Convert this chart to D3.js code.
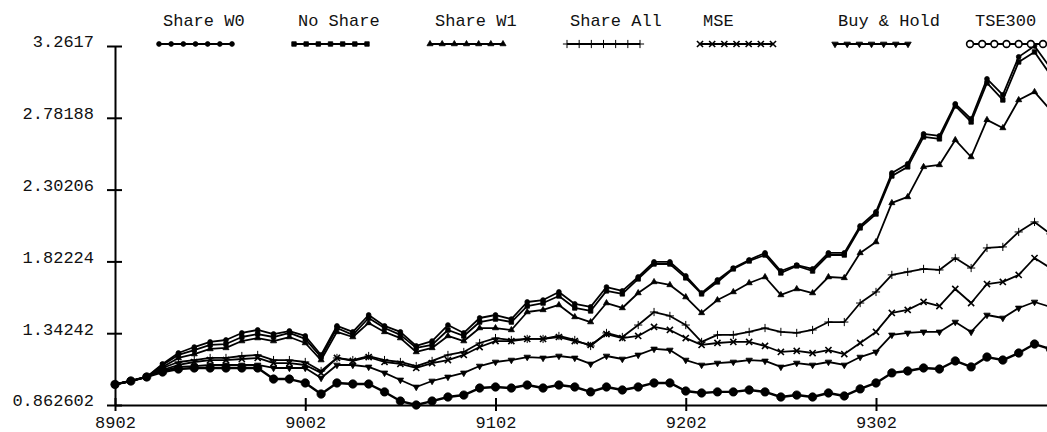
<!DOCTYPE html>
<html>
<head>
<meta charset="utf-8">
<script src="https://cdn.jsdelivr.net/npm/d3@7"></script>
<style>
  html, body { margin: 0; padding: 0; background: #fff; }
  svg { display: block; }
</style>
</head>
<body>
<svg id="chart"></svg>
<script>
// month labels (YYMM), one point per month
const months = [
    '8902','8903','8904','8905','8906','8907','8908','8909','8910','8911','8912',
    '9001','9002','9003','9004','9005','9006','9007','9008','9009','9010','9011','9012',
    '9101','9102','9103','9104','9105','9106','9107','9108','9109','9110','9111','9112',
    '9201','9202','9203','9204','9205','9206','9207','9208','9209','9210','9211','9212',
    '9301','9302','9303','9304','9305','9306','9307','9308','9309','9310','9311','9312',
    '9401'
];
const xTickLabels = ['8902', '9002', '9102', '9202', '9302'];
const yTicks = [0.862602, 1.34242, 1.82224, 2.30206, 2.78188, 3.2617];
const yTickLabels = ['0.862602', '1.34242', '1.82224', '2.30206', '2.78188', '3.2617'];

const seriesNames = ['Share W0', 'No Share', 'Share W1', 'Share All', 'MSE', 'Buy & Hold', 'TSE300'];

const shareW0 = [1.000,1.023,1.050,1.137,1.210,1.250,1.284,1.297,1.344,1.364,1.337,1.357,1.324,1.197,1.391,1.351,1.464,1.391,1.351,1.257,
    1.290,1.397,1.344,1.444,1.464,1.437,1.551,1.564,1.618,1.538,1.518,1.651,1.625,1.718,1.819,1.819,1.725,1.611,1.698,1.778,
    1.832,1.879,1.758,1.798,1.772,1.879,1.879,2.059,2.153,2.413,2.474,2.674,2.661,2.875,2.774,3.042,2.935,3.189,3.2617,3.115];
const noShare = [1.000,1.023,1.050,1.130,1.197,1.230,1.264,1.270,1.317,1.337,1.317,1.344,1.304,1.183,1.377,1.331,1.444,1.377,1.331,1.244,
    1.264,1.364,1.324,1.417,1.437,1.417,1.524,1.544,1.591,1.511,1.491,1.625,1.605,1.705,1.805,1.805,1.712,1.605,1.685,1.772,
    1.825,1.865,1.745,1.792,1.758,1.865,1.865,2.046,2.139,2.393,2.454,2.654,2.641,2.861,2.754,3.015,2.901,3.155,3.222,3.069];
const shareW1 = [1.000,1.023,1.050,1.117,1.177,1.203,1.237,1.244,1.290,1.310,1.290,1.317,1.277,1.163,1.351,1.317,1.411,1.351,1.310,1.217,
    1.244,1.324,1.290,1.377,1.377,1.364,1.484,1.498,1.531,1.451,1.417,1.544,1.511,1.611,1.685,1.665,1.584,1.478,1.564,1.618,
    1.678,1.718,1.598,1.638,1.611,1.718,1.712,1.879,1.952,2.213,2.253,2.454,2.467,2.634,2.520,2.768,2.714,2.901,2.955,2.834];
const shareAll = [1.000,1.023,1.050,1.110,1.150,1.163,1.177,1.177,1.190,1.197,1.163,1.163,1.150,1.090,1.177,1.163,1.190,1.163,1.150,1.123,
    1.157,1.197,1.217,1.277,1.310,1.297,1.304,1.304,1.324,1.297,1.257,1.344,1.317,1.397,1.484,1.458,1.397,1.284,1.331,1.331,
    1.351,1.377,1.351,1.344,1.364,1.417,1.417,1.544,1.618,1.732,1.752,1.772,1.765,1.845,1.778,1.912,1.919,2.019,2.086,2.006];
const mse = [1.000,1.023,1.050,1.097,1.130,1.150,1.163,1.163,1.170,1.177,1.143,1.143,1.130,1.077,1.177,1.157,1.183,1.150,1.137,1.110,
    1.143,1.163,1.197,1.250,1.290,1.290,1.304,1.304,1.317,1.290,1.264,1.337,1.310,1.324,1.384,1.364,1.310,1.264,1.277,1.284,
    1.284,1.257,1.217,1.224,1.210,1.230,1.203,1.277,1.351,1.478,1.498,1.551,1.524,1.638,1.544,1.671,1.685,1.732,1.845,1.778];
const buyHold = [1.000,1.023,1.050,1.090,1.117,1.123,1.130,1.130,1.130,1.130,1.110,1.110,1.110,1.043,1.130,1.130,1.117,1.077,1.030,0.983,
    1.023,1.050,1.077,1.123,1.150,1.163,1.183,1.177,1.190,1.177,1.137,1.190,1.170,1.197,1.237,1.230,1.163,1.130,1.143,1.150,
    1.163,1.157,1.117,1.143,1.130,1.150,1.130,1.183,1.217,1.331,1.344,1.351,1.351,1.417,1.351,1.464,1.444,1.511,1.551,1.518];
const tse300 = [1.000,1.023,1.050,1.083,1.103,1.110,1.110,1.110,1.110,1.110,1.036,1.036,1.010,0.936,1.010,1.003,1.003,0.950,0.889,0.862602,
    0.889,0.916,0.929,0.976,0.983,0.976,0.996,0.976,0.996,0.983,0.950,0.983,0.963,0.983,1.010,1.010,0.956,0.943,0.950,0.950,
    0.963,0.950,0.916,0.929,0.916,0.943,0.923,0.970,1.010,1.077,1.090,1.110,1.103,1.157,1.117,1.183,1.163,1.210,1.270,1.237];

function drawChart() {
    const W = 1047, H = 432;
    const svg = d3.select('#chart').attr('width', W).attr('height', H);
    svg.selectAll('*').remove();

    const font = '"Liberation Mono", "Courier New", monospace';
    const left = 115, top = 46, bottom = 405;
    const step = (876 - 115) / 48; // px per month

    const x = d3.scalePoint()
        .domain(months)
        .range([left, left + step * (months.length - 1)]);

    const y = d3.scaleLinear()
        .domain([yTicks[0], yTicks[yTicks.length - 1]])
        .range([bottom, top]);

    const allSeries = [shareW0, noShare, shareW1, shareAll, mse, buyHold, tse300];

    // marker shapes per series
    const markers = [
        { type: d3.symbolCircle, size: 18, fill: '#000', rot: 0, sw: 0.8 },
        { type: d3.symbolSquare, size: 20, fill: '#000', rot: 0, sw: 0.8 },
        { type: d3.symbolTriangle, size: 16, fill: '#000', rot: 0, sw: 0.8 },
        { type: d3.symbolPlus, size: 24, fill: '#000', rot: 0, sw: 1 },
        { type: d3.symbolTimes, size: 26, fill: 'none', rot: 0, sw: 1.6 },
        { type: d3.symbolTriangle, size: 18, fill: '#000', rot: 180, sw: 0.8 },
        { type: d3.symbolCircle, size: 55, fill: '#000', rot: 0, sw: 0.8 }
    ];

    // Axes
    const yAxis = svg.append('g')
        .attr('transform', `translate(${left},0)`)
        .call(d3.axisLeft(y).tickValues(yTicks).tickFormat((d, i) => yTickLabels[i]).tickSizeOuter(0));
    yAxis.select('.domain').attr('stroke', '#000').attr('stroke-width', 2);
    yAxis.selectAll('.tick line').attr('x1', -8).attr('x2', 7).attr('stroke-width', 2);
    yAxis.selectAll('.tick text')
        .attr('x', -21)
        .attr('dy', '0.05em')
        .style('font-family', font)
        .style('font-size', '17px')
        .style('fill', '#111');

    const xAxis = svg.append('g')
        .attr('transform', `translate(0,${bottom})`)
        .call(d3.axisBottom(x).tickValues(xTickLabels).tickSizeOuter(0));
    xAxis.select('.domain').attr('stroke', '#000').attr('stroke-width', 2);
    xAxis.selectAll('.tick line').attr('y1', -7).attr('y2', 6).attr('stroke-width', 2);
    xAxis.selectAll('.tick text')
        .attr('y', 23)
        .attr('dy', 0)
        .style('font-family', font)
        .style('font-size', '17px')
        .style('fill', '#111');

    // Lines + markers
    const line = d3.line()
        .x((d, i) => x(months[i]))
        .y(d => y(d));

    const plot = svg.append('g');
    allSeries.forEach((vals, k) => {
        plot.append('path')
            .datum(vals)
            .attr('d', line)
            .attr('fill', 'none')
            .attr('stroke', '#000')
            .attr('stroke-width', k === 6 ? 2.4 : 1.8)
            .attr('stroke-linejoin', 'round');

        const m = markers[k];
        const sym = d3.symbol().type(m.type).size(m.size);
        plot.selectAll(null)
            .data(vals)
            .enter()
            .append('path')
            .attr('d', sym)
            .attr('transform', (d, i) => `translate(${x(months[i])},${y(d)}) rotate(${m.rot})`)
            .attr('fill', m.fill)
            .attr('stroke', '#000')
            .attr('stroke-width', m.sw);
    });

    // Legend
    const legendX = [159, 294, 430, 567, 700, 835, 970];
    const legendTextX = [163, 298, 435, 570, 703, 838, 975];
    const legend = svg.append('g');
    seriesNames.forEach((name, k) => {
        legend.append('text')
            .attr('x', legendTextX[k])
            .attr('y', 26)
            .style('font-family', font)
            .style('font-size', '17px')
            .style('fill', '#111')
            .text(name);

        const x0 = legendX[k], x1 = x0 + 73, ly = 44;
        legend.append('line')
            .attr('x1', x0).attr('x2', x1)
            .attr('y1', ly).attr('y2', ly)
            .attr('stroke', '#000')
            .attr('stroke-width', 1.8);
        const m = markers[k];
        const size = k === 6 ? 36 : m.size;
        const sym = d3.symbol().type(m.type).size(size);
        d3.range(7).forEach(j => {
            legend.append('path')
                .attr('d', sym)
                .attr('transform', `translate(${x0 + j * (x1 - x0) / 6},${ly}) rotate(${m.rot})`)
                .attr('fill', k === 6 ? '#fff' : m.fill)
                .attr('stroke', '#000')
                .attr('stroke-width', k === 6 ? 1.6 : m.sw);
        });
    });
}

drawChart();
</script>
</body>
</html>
